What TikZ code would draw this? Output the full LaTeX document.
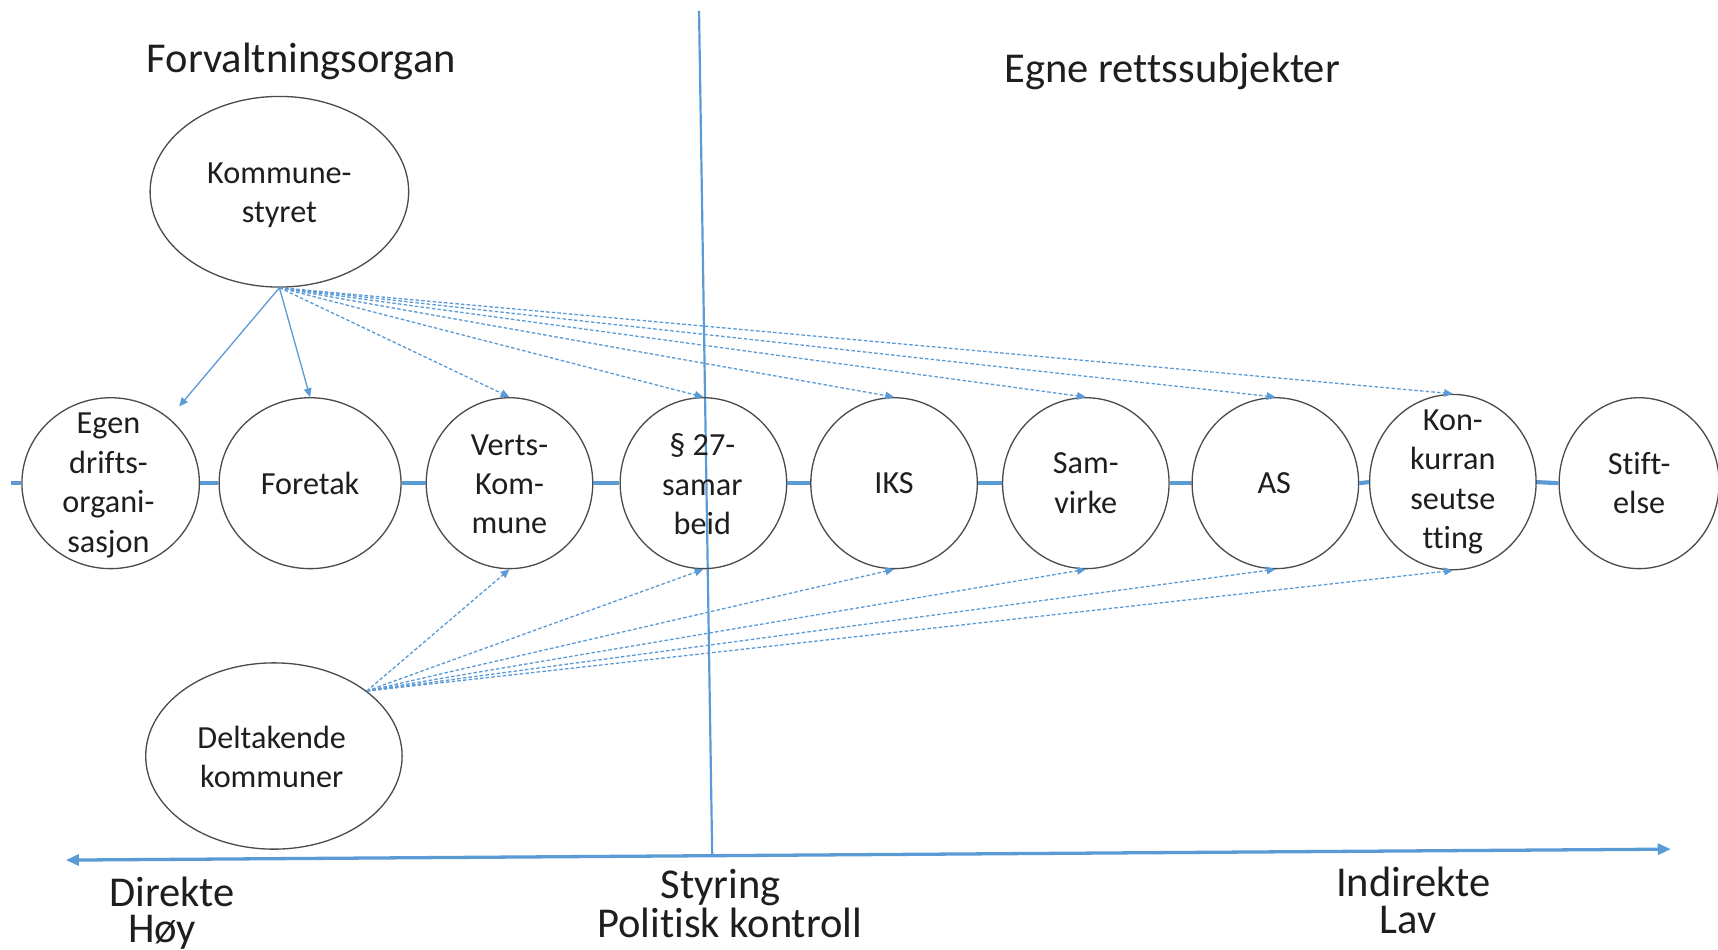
\documentclass[tikz,border=0pt]{standalone}
\usepackage{fontspec}
\setmainfont{Carlito}[Ligatures=NoCommon]
\usetikzlibrary{arrows.meta,shapes.geometric,calc}
\definecolor{lineblue}{RGB}{91,155,213}
\definecolor{ringgray}{RGB}{75,75,75}
\definecolor{txtcol}{RGB}{30,30,30}
\begin{document}
\begin{tikzpicture}[x=0.5pt,y=-0.5pt,
  ell/.style 2 args={ellipse, draw=ringgray, line width=0.6pt, inner sep=0pt, minimum width=#1pt, minimum height=#2pt},
  intext/.style={font=\fontsize{14.7}{18}\selectfont, align=center, text=txtcol, inner sep=0pt},
  bigtext/.style={font=\fontsize{19.4}{23}\selectfont, text=txtcol, inner sep=0pt, anchor=base},
  link/.style={draw=lineblue, line width=1.9pt},
  solidarrow/.style={draw=lineblue, line width=0.6pt, -{Triangle[length=4pt,width=3.5pt]}},
  dasharrow/.style={draw=lineblue, line width=0.6pt, dash pattern=on 1.6pt off 1pt, -{Triangle[length=4pt,width=3.5pt]}},
  axisline/.style={draw=lineblue, line width=1.5pt},
]
\useasboundingbox (0,0) rectangle (1568,867);

% titles
\node[bigtext] (tforv) at (275,66) {Forvaltningsorgan};
\node[bigtext] (tegne) at (1070,75) {Egne rettssubjekter};

% vertical divider
\coordinate (vtop) at (638,10);
\coordinate (vbot) at (650,780);
\draw[draw=lineblue, line width=1pt] (vtop) -- (vbot);

% top node
\node[ell={118}{87}] (ks) at (255,175) {};
\node[intext] (kst) at (255,178) {Kommune-\\styret};

% row of forms
\node[ell={81}{78}] (egen) at (101,441) {};
\node[ell={83}{78}] (foretak) at (283,441) {};
\node[ell={76}{78}] (verts) at (465,441) {};
\node[ell={76}{78}] (p27) at (642,441) {};
\node[ell={76}{78}] (iks) at (816,441) {};
\node[ell={76}{78}] (sam) at (991,441) {};
\node[ell={76}{78}] (as) at (1164,441) {};
\node[ell={76}{80}] (kon) at (1326,440) {};
\node[ell={73}{78}] (stift) at (1496,441) {};

\node[intext] (egent) at (99,443) {Egen\\drifts-\\organi-\\sasjon};
\node[intext] (foretakt) at (283,441) {Foretak};
\node[intext] (vertst) at (465,442) {Verts-\\Kom-\\mune};
\node[intext] (p27t) at (641,442) {§ 27-\\samar\\beid};
\node[intext] (ikst) at (816,441) {IKS};
\node[intext] (samt) at (991,441) {Sam-\\virke};
\node[intext] (ast) at (1163,441) {AS};
\node[intext] (kont) at (1326,440) {Kon-\\kurran\\seutse\\tting};
\node[intext] (stiftt) at (1496,441) {Stift-\\else};

% links between forms
\coordinate (lstub) at (10,441);
\draw[link] (lstub) -- (egen.west);
\draw[link] (egen.east) -- (foretak.west);
\draw[link] (foretak.east) -- (verts.west);
\draw[link] (verts.east) -- (p27.west);
\draw[link] (p27.east) -- (iks.west);
\draw[link] (iks.east) -- (sam.west);
\draw[link] (sam.east) -- (as.west);
\draw[link] (as.east) -- (kon.west);
\draw[link] (kon.east) -- (stift.west);

% bottom node
\node[ell={117}{85}] (dk) at (250,690) {};
\node[intext] (dkt) at (248,691) {Deltakende\\kommuner};

% arrows from Kommunestyret
\coordinate (egentip) at ($(ks.south)!0.91!(egen.48)$);
\draw[solidarrow] (ks.south) -- (egentip);
\draw[solidarrow] (ks.south) -- (foretak.north);
\draw[dasharrow] (ks.south) -- (verts.north);
\draw[dasharrow] (ks.south) -- (p27.north);
\draw[dasharrow] (ks.south) -- (iks.north);
\draw[dasharrow] (ks.south) -- (sam.north);
\draw[dasharrow] (ks.south) -- (as.north);
\draw[dasharrow] (ks.south) -- (kon.north);

% arrows from Deltakende kommuner
\draw[dasharrow] (dk.35) -- (verts.south);
\draw[dasharrow] (dk.35) -- (p27.south);
\draw[dasharrow] (dk.35) -- (iks.south);
\draw[dasharrow] (dk.35) -- (sam.south);
\draw[dasharrow] (dk.35) -- (as.south);
\draw[dasharrow] (dk.35) -- (kon.south);

% axis
\coordinate (axl) at (60,785);
\coordinate (axr) at (1525,775);
\draw[axisline, {Triangle[length=6pt,width=5pt]}-{Triangle[length=6pt,width=5pt]}] (axl) -- (axr);

% axis labels
\node[bigtext] (ldir) at (157,827) {Direkte};
\node[bigtext] (lhoy) at (148,860) {Høy};
\node[bigtext] (lsty) at (658,820) {Styring};
\node[bigtext] (lpol) at (666,856) {Politisk kontroll};
\node[bigtext] (lind) at (1290,818) {Indirekte};
\node[bigtext] (llav) at (1285,852) {Lav};
\end{tikzpicture}
\end{document}
